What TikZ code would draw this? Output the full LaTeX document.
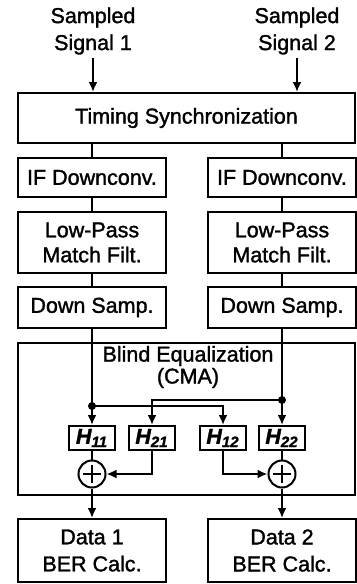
\documentclass[tikz,border=0pt]{standalone}
\usepackage{fontspec}
\setmainfont{Liberation Sans}[FakeBold=1.5]
\usetikzlibrary{arrows.meta}

\begin{document}
\begin{tikzpicture}[x=0.5pt,y=-0.5pt,>={Latex[length=5pt,width=4.5pt]},line width=1pt,font=\fontsize{10.75}{13.5}\selectfont]
        \tikzset{box/.style={draw, minimum width=74pt, align=center, inner sep=1pt},
                 hbox/.style={draw, minimum width=23pt, minimum height=12pt, inner sep=0pt, font=\fontsize{10.75}{13}\selectfont\bfseries\itshape},
                 sumnode/.style={draw, circle, minimum size=13.5pt, inner sep=0pt,
                   path picture={\draw ([xshift=-4.5pt]path picture bounding box.center) -- ([xshift=4.5pt]path picture bounding box.center)
                                       ([yshift=-4.5pt]path picture bounding box.center) -- ([yshift=4.5pt]path picture bounding box.center);}},
                 dot/.style={circle, fill, inner sep=0pt, minimum size=4pt}}
        \useasboundingbox (0,0) rectangle (357,584);
        % inputs
        \node[align=center, inner sep=1pt] (sig1) at (93,31) {Sampled\\Signal 1};
        \node[align=center, inner sep=1pt] (sig2) at (297,31) {Sampled\\Signal 2};
        \node[box, minimum width=168.5pt, minimum height=25pt] (timing) at (186.5,118) {Timing Synchronization};
        % two branches
        \node[box, minimum height=19.5pt] (if1) at (92,177.5) {IF Downconv.};
        \node[box, minimum height=19.5pt] (if2) at (282,177.5) {IF Downconv.};
        \node[box, minimum height=30.5pt] (lp1) at (92,242.5) {Low-Pass\\[-1pt]Match Filt.};
        \node[box, minimum height=30.5pt] (lp2) at (282,242.5) {Low-Pass\\[-1pt]Match Filt.};
        \node[box, minimum height=20.5pt] (ds1) at (92,307.5) {Down Samp.};
        \node[box, minimum height=20.5pt] (ds2) at (282,307.5) {Down Samp.};
        % equalizer
        \node[draw, minimum width=168.5pt, minimum height=76pt] (cma) at (186.5,419) {};
        \node[align=center, inner sep=0pt] (cmalabel) at (188,367) {Blind Equalization\\[-2.5pt](CMA)};
        \node[hbox] (h11) at (92,438) {H\textsubscript{11}};
        \node[hbox] (h21) at (152,438) {H\textsubscript{21}};
        \node[hbox] (h12) at (223,438) {H\textsubscript{12}};
        \node[hbox] (h22) at (282,438) {H\textsubscript{22}};
        \node[sumnode] (p1) at (92,474) {};
        \node[sumnode] (p2) at (282,474) {};
        \coordinate (j1) at (92,406);
        \coordinate (j2) at (282,400);
        % outputs
        \node[box, minimum height=31.5pt] (d1) at (92,550.5) {Data 1\\BER Calc.};
        \node[box, minimum height=31.5pt] (d2) at (282,550.5) {Data 2\\BER Calc.};
        % connectors
        \draw[->] (sig1.south) -- (sig1.south |- timing.north);
        \draw[->] (sig2.south) -- (sig2.south |- timing.north);
        \draw (timing.south -| if1.north) -- (if1.north);
        \draw (timing.south -| if2.north) -- (if2.north);
        \draw (if1) -- (lp1);
        \draw (if2) -- (lp2);
        \draw (lp1) -- (ds1);
        \draw (lp2) -- (ds2);
        \draw (ds1.south) -- (j1);
        \draw (ds2.south) -- (j2);
        \draw[->] (j1) -- (h11.north);
        \draw[->] (j2) -- (h22.north);
        \draw[->] (j1) -| (h12.north);
        \draw[->] (j2) -| (h21.north);
        \node[dot] (dj1) at (j1) {};
        \node[dot] (dj2) at (j2) {};
        \draw (h11) -- (p1);
        \draw (h22) -- (p2);
        \draw[->] (h21.south) |- (p1.east);
        \draw[->] (h12.south) |- (p2.west);
        \draw[->] (p1) -- (d1);
        \draw[->] (p2) -- (d2);
\end{tikzpicture}
\end{document}
